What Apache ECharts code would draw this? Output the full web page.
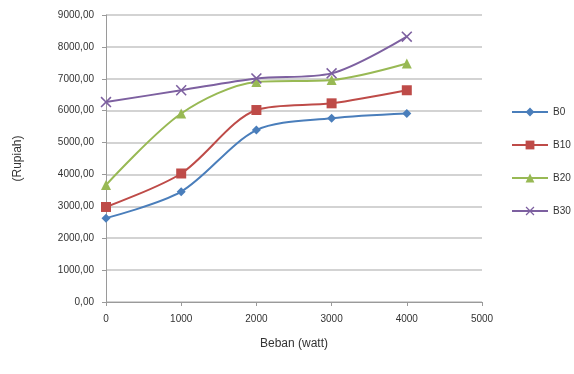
<!DOCTYPE html>
<html><head><meta charset="utf-8">
<script src="https://cdn.jsdelivr.net/npm/echarts@6/dist/echarts.min.js"></script>
<style>html,body{margin:0;padding:0;background:#fff}#c{width:574px;height:374px}</style>
</head><body><div id="c"></div>
<script>
var beban = [0, 1000, 2000, 3000, 4000];
var seriesNames = ['B0', 'B10', 'B20', 'B30'];
var b0  = [2630, 3460, 5390, 5760, 5910];
var b10 = [2980, 4030, 6020, 6230, 6640];
var b20 = [3670, 5910, 6900, 6960, 7480];
var b30 = [6270, 6640, 7010, 7170, 8320];
var xTicks = [0, 1000, 2000, 3000, 4000, 5000];
var yTicks = [0, 1000, 2000, 3000, 4000, 5000, 6000, 7000, 8000, 9000];

var colors = ['#4a7ebb', '#be4b48', '#98b954', '#7d60a0'];
var symbols = ['diamond', 'rect', 'triangle',
  'path://M0,1L1,0L5,4L9,0L10,1L6,5L10,9L9,10L5,6L1,10L0,9L4,5Z'];
var sizes = [9, 10, 10, 11];
var all = [b0, b10, b20, b30];

function pairs(vals){ return beban.map(function(x,i){ return [x, vals[i]]; }); }

var chart = echarts.init(document.getElementById('c'));
chart.setOption({
  animation: false,
  grid: {left: 106, right: 92, top: 15, bottom: 72},
  legend: {
    orient: 'vertical', left: 506, top: 102, itemGap: 23, itemWidth: 36, itemHeight: 11,
    textStyle: {fontFamily: 'Liberation Sans', fontSize: 10, color: '#333'},
    data: seriesNames
  },
  xAxis: {
    type: 'value', min: xTicks[0], max: xTicks[xTicks.length-1], interval: 1000,
    name: 'Beban (watt)', nameLocation: 'middle', nameGap: 36,
    nameTextStyle: {fontFamily: 'Liberation Sans', fontSize: 12, color: '#333'},
    axisLine: {show: true, lineStyle: {color: '#9a9a9a'}},
    axisTick: {show: true, length: 4, lineStyle: {color: '#9a9a9a'}},
    axisLabel: {fontFamily: 'Liberation Sans', fontSize: 10, color: '#333', margin: 12,
      formatter: function(v){ return String(v); }},
    splitLine: {show: false}
  },
  yAxis: {
    type: 'value', min: yTicks[0], max: yTicks[yTicks.length-1], interval: 1000,
    name: '(Rupiah)', nameLocation: 'middle', nameGap: 82, nameRotate: 90,
    nameTextStyle: {fontFamily: 'Liberation Sans', fontSize: 12, color: '#333'},
    axisLine: {show: true, lineStyle: {color: '#9a9a9a'}},
    axisTick: {show: true, length: 4, lineStyle: {color: '#9a9a9a'}},
    axisLabel: {fontFamily: 'Liberation Sans', fontSize: 10, color: '#333', margin: 12,
      formatter: function(v){ return v.toFixed(2).replace('.', ','); }},
    splitLine: {show: true, lineStyle: {color: '#c4c4c4', width: 1.5}}
  },
  series: all.map(function(vals, i){
    return {
      name: seriesNames[i], type: 'line', data: pairs(vals), smooth: 0.3,
      symbol: symbols[i], symbolSize: sizes[i],
      lineStyle: {color: colors[i], width: 2},
      itemStyle: {color: colors[i]}
    };
  })
});
</script></body></html>
